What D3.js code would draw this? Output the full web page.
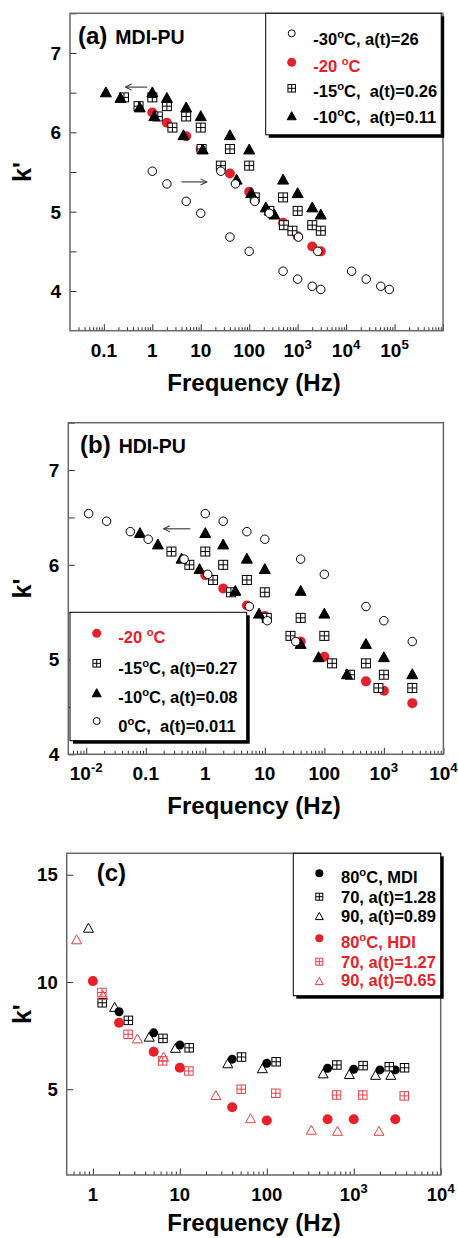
<!DOCTYPE html>
<html>
<head>
<meta charset="utf-8">
<script src="https://cdn.jsdelivr.net/npm/d3@7"></script>
<style>
  body { margin: 0; background: #fff; }
  svg { display: block; }
  text { font-family: "Liberation Sans", Arial, sans-serif; font-weight: bold; white-space: pre; }
</style>
</head>
<body>
<svg id="chart" width="458" height="1238"></svg>
<script>
// ---------- data : panel (a) MDI-PU ----------
const freqA = [1, 2, 5, 10, 40, 100, 500, 1000, 2000, 3000]
const kA_m30 = [5.51, 5.35, 5.13, 4.98, 4.68, 4.50, 4.25, 4.15, 4.06, 4.02]
const kA_m20 = [6.25, 6.12, 5.95, 5.79, 5.48, 5.25, 4.86, 4.69, 4.56, 4.50]
const kA_m15 = [6.44, 6.33, 6.20, 6.06, 5.79, 5.58, 5.18, 5.01, 4.83, 4.76]
const kA_m10 = [6.51, 6.44, 6.32, 6.21, 5.97, 5.79, 5.41, 5.24, 5.06, 4.97]
const atA_m30 = 26, atA_m15 = 0.26, atA_m10 = 0.11
const labelsA = ['-30°C, a(t)=26', '-20 °C', '-15°C,  a(t)=0.26', '-10°C,  a(t)=0.11']
const xTicksA = [0.1, 1, 10, 100, 1e3, 1e4, 1e5]
const yTicksA = [4, 5, 6, 7]
// arrows: [from freq, to freq, k]
const arrowsA = [[0.78, 0.28, 6.57], [4.0, 13.3, 5.375]]

// ---------- data : panel (b) HDI-PU ----------
const freqB = [1, 2, 5, 10, 40, 100, 500, 1000, 3000]
const kB_m20 = [5.89, 5.75, 5.57, 5.46, 5.19, 5.03, 4.77, 4.67, 4.54]
const kB_m15 = [6.14, 6.00, 5.84, 5.71, 5.44, 5.25, 4.96, 4.84, 4.70]
const kB_m10 = [6.34, 6.22, 6.07, 5.96, 5.73, 5.49, 5.17, 5.03, 4.85]
const kB_0 = [6.54, 6.46, 6.35, 6.27, 6.06, 5.90, 5.56, 5.41, 5.19]
const atB_m15 = 0.27, atB_m10 = 0.08, atB_0 = 0.011
const labelsB = ['-20 °C', '-15°C, a(t)=0.27', '-10°C, a(t)=0.08', '0°C,  a(t)=0.011']
const xTicksB = [1e-2, 0.1, 1, 10, 100, 1e3, 1e4]
const yTicksB = [4, 5, 6, 7]
const arrowsB = [[0.56, 0.20, 6.38]]

// ---------- data : panel (c) ----------
const freqC = [1, 2, 5, 10, 40, 100, 500, 1000, 2000, 3000]
const freqC_mdi80 = [2, 5, 10, 40, 100, 500, 1000, 2000, 3000]
const kC_mdi80 = [8.61, 7.63, 7.06, 6.40, 6.21, 5.98, 5.93, 5.90, 5.90]
const kC_mdi70 = [9.03, 8.21, 7.37, 6.93, 6.50, 6.28, 6.13, 6.10, 6.05, 6.00]
const kC_mdi90 = [12.53, 8.84, 7.45, 6.93, 6.21, 5.98, 5.74, 5.71, 5.67, 5.67]
const freqC_hdi = [1, 2, 5, 10, 40, 100, 500, 1000, 3000]
const kC_hdi80 = [10.04, 8.10, 6.75, 6.00, 4.16, 3.54, 3.60, 3.60, 3.60]
const kC_hdi70 = [9.51, 7.56, 6.32, 5.85, 5.00, 4.81, 4.73, 4.73, 4.69]
const kC_hdi90 = [11.99, 9.39, 7.37, 6.52, 4.73, 3.65, 3.11, 3.06, 3.06]
const atC_mdi70 = 1.28, atC_mdi90 = 0.89, atC_hdi70 = 1.27, atC_hdi90 = 0.65
const labelsC = ['80°C, MDI', '70, a(t)=1.28', '90, a(t)=0.89', '80°C, HDI', '70, a(t)=1.27', '90, a(t)=0.65']
const xTicksC = [1, 10, 100, 1e3, 1e4]
const yTicksC = [5, 10, 15]

const RED = '#e8202a'
const RED_OPEN = '#ee4048'
const svg = d3.select('#chart')

svg.append('defs').append('marker')
    .attr('id', 'head')
    .attr('viewBox', '0 0 10 10')
    .attr('refX', 9).attr('refY', 5)
    .attr('markerWidth', 7).attr('markerHeight', 7)
    .attr('orient', 'auto')
  .append('path')
    .attr('d', 'M1,1L9,5L1,9')
    .attr('fill', 'none').attr('stroke', '#333').attr('stroke-width', 1.3)

const shape = (m, type, s, color, fill) => {
  if (type === 'circle' || type === 'disc') {
    m.append('circle').attr('r', s / 2)
      .attr('fill', type === 'disc' ? color : fill)
      .attr('stroke', type === 'disc' ? 'none' : color)
  } else if (type === 'sqx') {
    m.append('rect').attr('x', -s / 2).attr('y', -s / 2).attr('width', s).attr('height', s)
      .attr('fill', fill).attr('stroke', color)
    m.append('path').attr('d', `M${-s / 2},0H${s / 2}M0,${-s / 2}V${s / 2}`).attr('stroke', color)
  } else {
    const h = s * 0.9
    m.append('path').attr('d', `M0,${-h / 2}L${s / 2},${h / 2}L${-s / 2},${h / 2}Z`)
      .attr('fill', type === 'tri' ? color : fill)
      .attr('stroke', color).attr('stroke-linejoin', 'miter')
  }
}

const pow10 = (g, v, size) => {
  // tick label: plain numbers or 10 with superscript exponent
  const e = Math.round(Math.log10(v))
  if (v >= 0.1 && v <= 100) {
    g.text(v < 1 ? '0.1' : String(v))
  } else {
    g.text('10')
    g.append('tspan').attr('font-size', size * 0.7).attr('dy', -size * 0.42).text(String(e))
  }
}

const degText = (t, label, size) => {
  const parts = label.split('°')
  t.append('tspan').text(parts[0])
  if (parts.length > 1) {
    t.append('tspan').attr('font-size', size * 0.68).attr('dy', -size * 0.42).text('o')
    t.append('tspan').attr('dy', size * 0.42).text(parts[1])
  }
}

const panel = (p) => {
  const g = svg.append('g')
  const x = d3.scaleLog().domain(p.xDomain).range([p.left, p.right])
  const y = d3.scaleLinear().domain(p.yDomain).range([p.bottom, p.top])

  // minor log ticks
  const minors = []
  for (let d = Math.floor(Math.log10(p.xDomain[0])); d < Math.log10(p.xDomain[1]); d++) {
    for (let m = 2; m <= 9; m++) {
      const v = m * Math.pow(10, d)
      if (v > p.xDomain[0] && v < p.xDomain[1]) minors.push(v)
    }
  }
  const majors = d3.range(Math.ceil(Math.log10(p.xDomain[0])), Math.floor(Math.log10(p.xDomain[1])) + 1).map(d => Math.pow(10, d))

  g.append('g').attr('transform', `translate(0,${p.bottom})`)
    .call(d3.axisBottom(x).tickValues(minors).tickSize(-3.5).tickFormat(''))
    .call(a => a.select('.domain').remove())
  g.append('g').attr('transform', `translate(0,${p.bottom})`)
    .call(d3.axisBottom(x).tickValues(majors).tickSize(-6.5).tickFormat(''))
    .call(a => a.select('.domain').remove())
  g.append('g').attr('transform', `translate(${p.left},0)`)
    .call(d3.axisLeft(y).tickValues(p.yMinor).tickSize(-6.5).tickFormat(''))
    .call(a => a.select('.domain').remove())
  g.selectAll('.tick line').attr('stroke', '#333')

  // frame
  g.append('rect')
    .attr('x', p.left).attr('y', p.top)
    .attr('width', p.right - p.left).attr('height', p.bottom - p.top)
    .attr('fill', 'none').attr('stroke', '#666').attr('stroke-width', 1.5)

  // tick labels
  g.append('g').selectAll('text').data(p.xTicks).join('text')
    .attr('x', d => x(d)).attr('y', p.bottom + 26)
    .attr('text-anchor', 'middle').attr('font-size', p.tickFont)
    .each(function (d) { pow10(d3.select(this), d, p.tickFont) })
  g.append('g').selectAll('text').data(p.yTicks).join('text')
    .attr('x', p.left - 9).attr('y', d => y(d) + p.tickFont * 0.36)
    .attr('text-anchor', 'end').attr('font-size', p.tickFont)
    .text(d => d)

  // axis titles
  g.append('text')
    .attr('x', 254).attr('y', p.xTitleY)
    .attr('text-anchor', 'middle').attr('font-size', 24)
    .text('Frequency (Hz)')
  g.append('text')
    .attr('transform', `translate(31,${(p.top + p.bottom) / 2}) rotate(-90)`)
    .attr('text-anchor', 'middle').attr('font-size', 25)
    .text("k'")

  // panel title
  const t = g.append('text').attr('x', p.titleX).attr('y', p.titleY)
  t.append('tspan').attr('font-size', 24).text(p.title[0])
  if (p.title[1]) t.append('tspan').attr('font-size', 19.5).attr('dx', 8).text(p.title[1])

  // arrows
  g.append('g').selectAll('line').data(p.arrows).join('line')
    .attr('x1', d => x(d[0])).attr('x2', d => x(d[1]))
    .attr('y1', d => y(d[2])).attr('y2', d => y(d[2]))
    .attr('stroke', '#333').attr('stroke-width', 1.1)
    .attr('marker-end', 'url(#head)')

  // series
  p.series.forEach(s => {
    const pts = s.freq.map((f, i) => [f * s.at, s.k[i]])
    const m = g.append('g').selectAll('g').data(pts).join('g')
      .attr('transform', d => `translate(${x(d[0])},${y(d[1])})`)
    shape(m, s.type, s.size, s.color, s.fill)
  })

  // legend
  const L = p.legend
  const lg = g.append('g')
  lg.append('rect').attr('x', L.x + 3).attr('y', L.y + 3).attr('width', L.w).attr('height', L.h).attr('fill', '#000')
  lg.append('rect').attr('x', L.x).attr('y', L.y).attr('width', L.w).attr('height', L.h)
    .attr('fill', '#fff').attr('stroke', '#000').attr('stroke-width', 1)
  L.rows.forEach((r, i) => {
    const m = lg.append('g').attr('transform', `translate(${L.symX},${L.symY[i]})`)
    shape(m, r.type, r.size, r.color, r.fill)
    const tx = lg.append('text').attr('x', L.textX).attr('y', L.textY[i])
      .attr('font-size', L.font).attr('fill', r.textColor)
    degText(tx, r.label, L.font)
  })
}

panel({
  xDomain: [0.02, 1e6], yDomain: [3.5, 7.5],
  left: 70, right: 443, top: 13.3, bottom: 330.7,
  xTicks: xTicksA, yTicks: yTicksA, yMinor: d3.range(4, 7.51, 0.5), tickFont: 19,
  xTitleY: 391, title: ['(a)', 'MDI-PU'], titleX: 78, titleY: 44,
  arrows: arrowsA,
  series: [
    { freq: freqA, k: kA_m20, at: 1, type: 'disc', size: 10, color: RED },
    { freq: freqA, k: kA_m15, at: 1, type: 'sqx', size: 9, color: '#000', fill: '#fff' },
    { freq: freqA, k: kA_m15, at: atA_m15, type: 'sqx', size: 9, color: '#000', fill: '#fff' },
    { freq: freqA, k: kA_m10, at: 1, type: 'tri', size: 11, color: '#000' },
    { freq: freqA, k: kA_m10, at: atA_m10, type: 'tri', size: 11, color: '#000' },
    { freq: freqA, k: kA_m30, at: 1, type: 'circle', size: 8.5, color: '#000', fill: '#fff' },
    { freq: freqA, k: kA_m30, at: atA_m30, type: 'circle', size: 8.5, color: '#000', fill: '#fff' }
  ],
  legend: {
    x: 265.7, y: 13.3, w: 175.5, h: 121.5, symX: 291.7, textX: 313.3, font: 16.5,
    symY: [33.3, 62.3, 88.3, 115.7], textY: [45, 71.7, 96.7, 122.7],
    rows: [
      { type: 'circle', size: 7, color: '#000', fill: '#fff', label: labelsA[0], textColor: '#000' },
      { type: 'disc', size: 9, color: RED, label: labelsA[1], textColor: RED },
      { type: 'sqx', size: 7.5, color: '#000', fill: '#fff', label: labelsA[2], textColor: '#000' },
      { type: 'tri', size: 9, color: '#000', label: labelsA[3], textColor: '#000' }
    ]
  }
})

panel({
  xDomain: [0.005, 1e4], yDomain: [4, 7.5],
  left: 68.3, right: 443.4, top: 422.7, bottom: 754.3,
  xTicks: xTicksB, yTicks: yTicksB, yMinor: d3.range(4, 7.51, 0.5), tickFont: 19,
  xTitleY: 814, title: ['(b)', 'HDI-PU'], titleX: 80, titleY: 453.3,
  arrows: arrowsB,
  series: [
    { freq: freqB, k: kB_m20, at: 1, type: 'disc', size: 10, color: RED },
    { freq: freqB, k: kB_m15, at: 1, type: 'sqx', size: 9, color: '#000', fill: '#fff' },
    { freq: freqB, k: kB_m15, at: atB_m15, type: 'sqx', size: 9, color: '#000', fill: '#fff' },
    { freq: freqB, k: kB_m10, at: 1, type: 'tri', size: 11, color: '#000' },
    { freq: freqB, k: kB_m10, at: atB_m10, type: 'tri', size: 11, color: '#000' },
    { freq: freqB, k: kB_0, at: 1, type: 'circle', size: 8.5, color: '#000', fill: '#fff' },
    { freq: freqB, k: kB_0, at: atB_0, type: 'circle', size: 8.5, color: '#000', fill: '#fff' }
  ],
  legend: {
    x: 70, y: 612.3, w: 176.7, h: 128.4, symX: 96.7, textX: 118.3, font: 16.5,
    symY: [633.3, 663.3, 692.7, 721], textY: [643.3, 674.3, 702.7, 731.7],
    rows: [
      { type: 'disc', size: 9, color: RED, label: labelsB[0], textColor: RED },
      { type: 'sqx', size: 7.5, color: '#000', fill: '#fff', label: labelsB[1], textColor: '#000' },
      { type: 'tri', size: 9, color: '#000', label: labelsB[2], textColor: '#000' },
      { type: 'circle', size: 7, color: '#000', fill: '#fff', label: labelsB[3], textColor: '#000' }
    ]
  }
})

panel({
  xDomain: [0.5, 1e4], yDomain: [1, 16],
  left: 66.7, right: 440.7, top: 853.3, bottom: 1175,
  xTicks: xTicksC, yTicks: yTicksC, yMinor: yTicksC, tickFont: 18.5,
  xTitleY: 1231, title: ['(c)'], titleX: 96.7, titleY: 880.7,
  arrows: [],
  series: [
    { freq: freqC, k: kC_mdi90, at: atC_mdi90, type: 'otri', size: 10, color: '#000', fill: 'none' },
    { freq: freqC_mdi80, k: kC_mdi80, at: 1, type: 'disc', size: 9, color: '#000' },
    { freq: freqC, k: kC_mdi70, at: atC_mdi70, type: 'sqx', size: 8.5, color: '#000', fill: '#fff' },
    { freq: freqC_hdi, k: kC_hdi90, at: atC_hdi90, type: 'otri', size: 10, color: RED_OPEN, fill: 'none' },
    { freq: freqC_hdi, k: kC_hdi80, at: 1, type: 'disc', size: 10, color: RED },
    { freq: freqC_hdi, k: kC_hdi70, at: atC_hdi70, type: 'sqx', size: 8.5, color: RED_OPEN, fill: 'none' }
  ],
  legend: {
    x: 293.3, y: 853.3, w: 147.4, h: 142.4, symX: 319.3, textX: 341, font: 16.5,
    symY: [873.3, 896.7, 916, 938.3, 961.7, 981], textY: [883.3, 902.7, 921.7, 948.3, 967.7, 986],
    rows: [
      { type: 'disc', size: 8, color: '#000', label: labelsC[0], textColor: '#000' },
      { type: 'sqx', size: 7, color: '#000', fill: '#fff', label: labelsC[1], textColor: '#000' },
      { type: 'otri', size: 8, color: '#000', fill: '#fff', label: labelsC[2], textColor: '#000' },
      { type: 'disc', size: 8, color: RED, label: labelsC[3], textColor: RED },
      { type: 'sqx', size: 7, color: RED_OPEN, fill: '#fff', label: labelsC[4], textColor: RED },
      { type: 'otri', size: 8, color: RED_OPEN, fill: '#fff', label: labelsC[5], textColor: RED }
    ]
  }
})
</script>
</body>
</html>
